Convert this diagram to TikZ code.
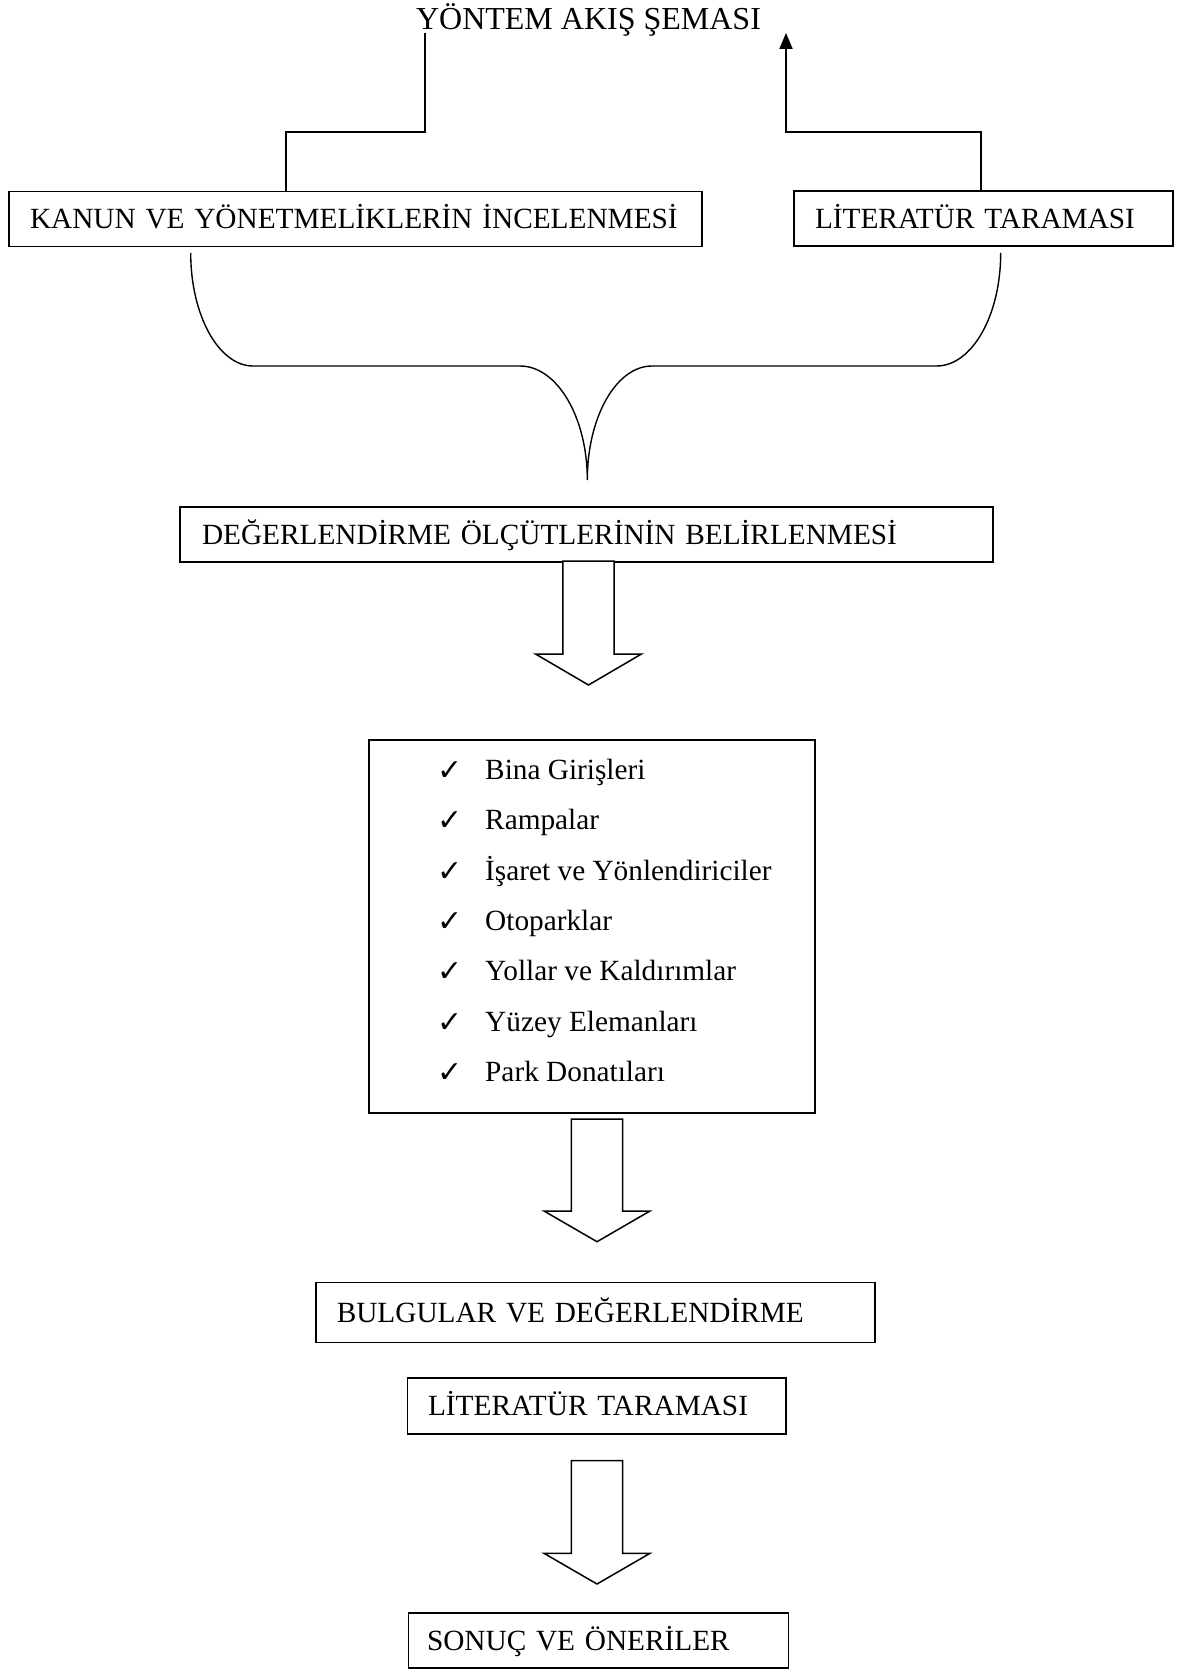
\documentclass[tikz,border=0pt]{standalone}
\usepackage{fontspec}
\setmainfont{Liberation Serif}
\newfontfamily\checkfont{DejaVu Sans}
\usetikzlibrary{arrows.meta}
\newcommand\mainsize{\fontsize{29.3pt}{35pt}\selectfont}
\newcommand\titlesize{\fontsize{32pt}{38pt}\selectfont}
\newcommand\blockarrowdown[4]{%
  \draw[blockarrow] ({#1-25.7},#2) -- ({#1-25.7},#3) -- ({#1-53},#3) -- (#1,#4)
    -- ({#1+53},#3) -- ({#1+25.7},#3) -- ({#1+25.7},#2) -- cycle;}
\begin{document}
\begin{tikzpicture}[x=1pt,y=-1pt,
  flowbox/.style={draw, line width=1.5pt, rectangle, align=left,
    text height=19.4pt, text depth=0pt, inner ysep=0pt, font=\mainsize},
  itemtext/.style={inner sep=0pt, anchor=base west, font=\mainsize},
  chk/.style={inner sep=0pt, anchor=base west, font=\checkfont\fontsize{30pt}{34pt}\selectfont},
  conn/.style={line width=2pt},
  brace/.style={line width=1.4pt},
  blockarrow/.style={draw, line width=1.5pt, fill=white, line join=miter}]
\fill[white] (0,0) rectangle (1179,1669);
\useasboundingbox (0,0) rectangle (1179,1669);

% title
\node[font=\titlesize, inner sep=0pt, anchor=base] (title) at (588.5,29.5) {YÖNTEM AKIŞ ŞEMASI};

% top boxes
\node[flowbox, minimum width=693pt, minimum height=55pt, inner xsep=21pt, text width=651pt]
  (kanun) at (355.5,219.2) {KANUN VE YÖNETMELİKLERİN İNCELENMESİ};
\node[flowbox, minimum width=379pt, minimum height=55pt, inner xsep=21pt, text width=337pt]
  (lit1) at (983.5,218.5) {LİTERATÜR TARAMASI};

% connectors to title
\coordinate (lb) at (286,132);
\coordinate (lt) at (425,33);
\coordinate (rb) at (981,132);
\coordinate (rt) at (786,33);
\draw[conn] (kanun.north -| lb) -- (lb) -| (lt);
\draw[conn, -{Triangle[length=16pt,width=13pt]}] (lit1.north -| rb) -- (rb) -| (rt);

% brace
\coordinate (bl) at (190.7,253);
\coordinate (br) at (1000.7,253);
\coordinate (bc) at (587.3,480);
\draw[brace] (bl) .. controls (190.7,315.4) and (218.8,366) .. (253,366)
  -- (520,366) .. controls (557,366) and (587.3,417) .. (bc)
  .. controls (587.3,417) and (616.3,366) .. (652,366)
  -- (936.5,366) .. controls (972,366) and (1000.7,315.4) .. (br);

% criteria determination box
\node[flowbox, minimum width=813pt, minimum height=55pt, inner xsep=22pt, text width=769pt]
  (degr) at (586.5,534.5) {DEĞERLENDİRME ÖLÇÜTLERİNİN BELİRLENMESİ};

\blockarrowdown{588.5}{561}{654}{685}

% criteria list box
\node[draw, line width=1.5pt, rectangle, minimum width=446pt, minimum height=373pt, inner sep=0pt]
  (crit) at (592,926.5) {};
\foreach \t [count=\i] in {Bina Girişleri, Rampalar, İşaret ve Yönlendiriciler, Otoparklar,
    Yollar ve Kaldırımlar, Yüzey Elemanları, Park Donatıları} {
  \node[chk] (c\i) at (437,{779.3+50.4*(\i-1)+1}) {✓};
  \node[itemtext] (i\i) at (485,{779.3+50.4*(\i-1)}) {\t};
}

\blockarrowdown{597}{1119}{1211}{1241.7}

% findings
\node[flowbox, minimum width=559.3pt, minimum height=60pt, inner xsep=21pt, text width=517.3pt]
  (bulg) at (595.4,1312.3) {BULGULAR VE DEĞERLENDİRME};
\node[flowbox, minimum width=378.7pt, minimum height=56pt, inner xsep=20.7pt, text width=337.3pt]
  (lit2) at (596.7,1406) {LİTERATÜR TARAMASI};

\blockarrowdown{597}{1460.7}{1553.3}{1584}

\node[flowbox, minimum width=380pt, minimum height=55.3pt, inner xsep=18.7pt, text width=342.6pt]
  (sonuc) at (598.3,1640.4) {SONUÇ VE ÖNERİLER};
\end{tikzpicture}
\end{document}
